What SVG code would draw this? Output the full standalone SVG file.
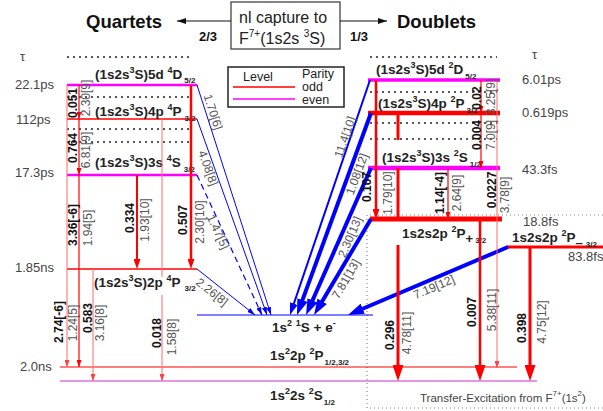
<svg xmlns="http://www.w3.org/2000/svg" width="603" height="411" viewBox="0 0 603 411">
<style>
text{font-family:"Liberation Sans",Arial,sans-serif}
.hd{font-size:18.5px;font-weight:bold;fill:#111}
.fr{font-size:13px;font-weight:bold;fill:#111}
.bx{font-size:16px;fill:#222}
.lv{font-size:13.5px;font-weight:bold;fill:#222}
.tm{font-size:13px;fill:#444}
.te{font-size:11.5px;fill:#444}
.lg{font-size:12.5px;fill:#222}
.bv{font-size:12px;font-weight:bold;fill:#111}
.gv{font-size:12px;fill:#555}
.dot{stroke:#222;stroke-width:1.6;stroke-dasharray:2,4;fill:none}
.gdot{stroke:#888;stroke-width:1.2;stroke-dasharray:1,3;fill:none}
.mg{stroke:#ff00ff;fill:none}
.rd{stroke:#ff0000;fill:none}
.lr{stroke:#ff6a6a;fill:none;stroke-width:1}
.bl{stroke:#0000ff;fill:none}
</style>
<defs>
<marker id="rS" markerUnits="userSpaceOnUse" markerWidth="7" markerHeight="5" refX="7" refY="2.5" orient="auto" viewBox="0 0 7 5"><path d="M0,0L7,2.5L0,5z" fill="#ff0000"/></marker>
<marker id="rSl" markerUnits="userSpaceOnUse" markerWidth="7" markerHeight="5" refX="7" refY="2.5" orient="auto" viewBox="0 0 7 5"><path d="M0,0L7,2.5L0,5z" fill="#ff4040"/></marker>
<marker id="rM" markerUnits="userSpaceOnUse" markerWidth="10" markerHeight="7" refX="2" refY="3.5" orient="auto" viewBox="0 0 10 7"><path d="M0,0L10,3.5L0,7z" fill="#ff0000"/></marker>
<marker id="rL" markerUnits="userSpaceOnUse" markerWidth="16" markerHeight="11" refX="2" refY="5.5" orient="auto" viewBox="0 0 16 11"><path d="M0,0L16,5.5L0,11z" fill="#ff0000"/></marker>
<marker id="bS" markerUnits="userSpaceOnUse" markerWidth="8" markerHeight="5" refX="8" refY="2.5" orient="auto" viewBox="0 0 8 5"><path d="M0,0L8,2.5L0,5z" fill="#0000ff"/></marker>
<marker id="bM" markerUnits="userSpaceOnUse" markerWidth="12" markerHeight="8" refX="2" refY="4" orient="auto" viewBox="0 0 12 8"><path d="M0,0L12,4L0,8z" fill="#0000ff"/></marker>
<marker id="bL" markerUnits="userSpaceOnUse" markerWidth="16" markerHeight="11" refX="2" refY="5.5" orient="auto" viewBox="0 0 16 11"><path d="M0,0L16,5.5L0,11z" fill="#0000ff"/></marker>
<marker id="kS" markerUnits="userSpaceOnUse" markerWidth="9" markerHeight="6" refX="9" refY="3" orient="auto" viewBox="0 0 9 6"><path d="M0,0L9,3L0,6z" fill="#111"/></marker>
</defs>
<rect width="603" height="411" fill="#fff"/>

<!-- header -->
<g id="header">
<text class="hd" x="86" y="28">Quartets</text>
<text class="hd" x="397" y="28">Doublets</text>
<rect x="231" y="2" width="109" height="47" fill="none" stroke="#444" stroke-width="1.3"/>
<text class="bx" x="239" y="23">nl capture to</text>
<text class="bx" x="239" y="44">F<tspan font-size="10" dy="-7">7+</tspan><tspan dy="7">(1s2s  </tspan><tspan font-size="10" dy="-7">3</tspan><tspan dy="7">S)</tspan></text>
<text class="fr" x="199" y="41">2/3</text>
<text class="fr" x="350" y="41">1/3</text>
</g>

<!-- legend -->
<g id="legend">
<rect x="228" y="67" width="116" height="40" fill="#fff" stroke="#222" stroke-width="1.5"/>
<text class="lg" x="243" y="81">Level</text>
<text class="lg" x="302" y="78">Parity</text>
<line x1="233" y1="87" x2="295" y2="87" stroke="#ff0000" stroke-width="1.3"/>
<text class="lg" x="302" y="91">odd</text>
<line x1="233" y1="99" x2="295" y2="99" stroke="#ff00ff" stroke-width="1.3"/>
<text class="lg" x="302" y="104">even</text>
</g>

<!-- tau / lifetimes -->
<g id="lifetimes">
<text class="tm" x="20" y="61">τ</text>
<text class="tm" x="15" y="89">22.1ps</text>
<text class="tm" x="16" y="124">112ps</text>
<text class="tm" x="15" y="177">17.3ps</text>
<text class="tm" x="15" y="272">1.85ns</text>
<text class="tm" x="20" y="371">2.0ns</text>
<text class="tm" x="532" y="59">τ</text>
<text class="tm" x="522" y="84">6.01ps</text>
<text class="tm" x="522" y="117">0.619ps</text>
<text class="tm" x="522" y="174">43.3fs</text>
<text class="tm" x="523" y="226">18.8fs</text>
<text class="tm" x="568" y="261">83.8fs</text>
</g>

<!-- dotted guides -->
<g id="guides">
<line class="dot" x1="67" y1="57" x2="193" y2="57"/>
<line class="dot" x1="67" y1="97" x2="193" y2="97"/>
<line class="dot" x1="67" y1="129" x2="193" y2="129"/>
<line class="dot" x1="67" y1="142" x2="193" y2="142"/>
<line class="dot" x1="370" y1="57" x2="497" y2="57"/>
<line class="dot" x1="370" y1="92" x2="497" y2="92"/>
<line class="dot" x1="370" y1="123" x2="497" y2="123"/>
<line class="dot" x1="370" y1="139" x2="497" y2="139"/>
<path class="gdot" d="M370,215H603M367,215V408H603"/>
</g>

<!-- quartet levels -->
<g id="q5d">
<line class="mg" x1="67" y1="85" x2="197" y2="85" stroke-width="2.5"/>
<text class="lv" x="95" y="79">(1s2s<tspan font-size="9" dy="-6">3</tspan><tspan dy="6">S)5d </tspan><tspan font-size="9" dy="-6">4</tspan><tspan dy="6">D</tspan><tspan font-size="8" dx="2" dy="4">5/2</tspan></text>
</g>
<g id="q4p">
<line class="rd" x1="67" y1="119" x2="197" y2="119" stroke-width="1.5"/>
<text class="lv" x="95" y="116">(1s2s<tspan font-size="9" dy="-6">3</tspan><tspan dy="6">S)4p </tspan><tspan font-size="9" dy="-6">4</tspan><tspan dy="6">P</tspan><tspan font-size="8" dx="3" dy="5">3/2</tspan></text>
</g>
<g id="q3s">
<line class="mg" x1="67" y1="175" x2="197" y2="175" stroke-width="2.5"/>
<text class="lv" x="95" y="167">(1s2s<tspan font-size="9" dy="-6">3</tspan><tspan dy="6">S)3s </tspan><tspan font-size="9" dy="-6">4</tspan><tspan dy="6">S</tspan><tspan font-size="8" dx="3" dy="5">3/2</tspan></text>
</g>
<g id="q2p">
<line class="rd" x1="67" y1="269" x2="197" y2="269" stroke-width="1.5"/>
<text class="lv" x="94" y="287">(1s2s<tspan font-size="9" dy="-6">3</tspan><tspan dy="6">S)2p </tspan><tspan font-size="9" dy="-6">4</tspan><tspan dy="6">P</tspan><tspan font-size="8" dx="4" dy="4">3/2</tspan></text>
</g>

<!-- doublet levels -->
<g id="d5d">
<line class="mg" x1="368" y1="80" x2="500" y2="80" stroke-width="3.5"/>
<text class="lv" x="376" y="74">(1s2s<tspan font-size="9" dy="-6">3</tspan><tspan dy="6">S)5d </tspan><tspan font-size="9" dy="-6">2</tspan><tspan dy="6">D</tspan><tspan font-size="8" dx="2" dy="5">5/2</tspan></text>
</g>
<g id="d4p">
<line class="rd" x1="368" y1="113" x2="500" y2="113" stroke-width="4.5"/>
<text class="lv" x="378" y="108">(1s2s<tspan font-size="9" dy="-6">3</tspan><tspan dy="6">S)4p </tspan><tspan font-size="9" dy="-6">2</tspan><tspan dy="6">P</tspan><tspan font-size="8" dx="2" dy="5">3/2</tspan></text>
</g>
<g id="d3s">
<line class="mg" x1="368" y1="168" x2="500" y2="168" stroke-width="4.5"/>
<text class="lv" x="382" y="162">(1s2s<tspan font-size="9" dy="-6">3</tspan><tspan dy="6">S)3s </tspan><tspan font-size="9" dy="-6">2</tspan><tspan dy="6">S</tspan><tspan font-size="8" dx="2" dy="5">1/2</tspan></text>
</g>
<g id="d2pplus">
<line class="rd" x1="370" y1="219" x2="502" y2="219" stroke-width="5"/>
<text class="lv" x="402" y="238">1s2s2p <tspan font-size="9" dy="-6">2</tspan><tspan dy="6">P</tspan><tspan font-size="13" dy="5">+</tspan><tspan font-size="8" dx="2" dy="0">3/2</tspan></text>
</g>
<g id="d2pminus">
<line class="rd" x1="507" y1="247" x2="603" y2="247" stroke-width="3"/>
<text class="lv" x="512" y="242">1s2s2p <tspan font-size="9" dy="-6">2</tspan><tspan dy="6">P</tspan><tspan font-size="13" dy="5">–</tspan><tspan font-size="8" dx="3" dy="0">3/2</tspan></text>
</g>

<!-- final states -->
<g id="continuum">
<line class="bl" x1="197" y1="315" x2="373" y2="315" stroke-width="1.2"/>
<text class="lv" x="272" y="332">1s<tspan font-size="9" dy="-6">2</tspan><tspan dy="6"> </tspan><tspan font-size="9" dy="-6">1</tspan><tspan dy="6">S + e</tspan><tspan font-size="9" dy="-6">-</tspan></text>
</g>
<g id="g2p">
<line class="rd" x1="60" y1="367" x2="517" y2="367" stroke-width="1.2"/>
<text class="lv" x="270" y="360">1s<tspan font-size="9" dy="-6">2</tspan><tspan dy="6">2p </tspan><tspan font-size="9" dy="-6">2</tspan><tspan dy="6">P</tspan><tspan font-size="8" dx="1" dy="5">1/2,3/2</tspan></text>
</g>
<g id="g2s">
<line x1="60" y1="381" x2="537" y2="381" stroke="#e070e0" stroke-width="1.5"/>
<text class="lv" x="270" y="400">1s<tspan font-size="9" dy="-6">2</tspan><tspan dy="6">2s </tspan><tspan font-size="9" dy="-6">2</tspan><tspan dy="6">S</tspan><tspan font-size="8" dx="1" dy="5">1/2</tspan></text>
</g>
<g id="te">
<text class="te" x="420" y="402">Transfer-Excitation from F<tspan font-size="8" dy="-6">7+</tspan><tspan dy="6">(1s</tspan><tspan font-size="8" dy="-6">2</tspan><tspan dy="6">)</tspan></text>
</g>

<!-- connectors -->
<g id="connectors">
<line x1="231" y1="21" x2="177" y2="21" stroke="#111" stroke-width="1.2" marker-end="url(#kS)"/>
<line x1="340" y1="21" x2="387" y2="21" stroke="#111" stroke-width="1.2" marker-end="url(#kS)"/>

<!-- quartet radiative -->
<line class="lr" x1="67" y1="85" x2="67" y2="367" marker-end="url(#rSl)"/>
<line class="rd" x1="79" y1="85" x2="79" y2="119" stroke-width="1.2" marker-end="url(#rS)"/>
<line class="rd" x1="79" y1="119" x2="79" y2="175" stroke-width="1.2" marker-end="url(#rS)"/>
<line class="rd" x1="79" y1="175" x2="79" y2="367" stroke-width="1.2" marker-end="url(#rS)"/>
<line class="lr" x1="93" y1="269" x2="93" y2="381" marker-end="url(#rSl)"/>
<line class="rd" x1="137" y1="175" x2="137" y2="261" stroke-width="2" marker-end="url(#rM)"/>
<line class="lr" x1="162" y1="119" x2="162" y2="277"/>
<line class="lr" x1="162" y1="295" x2="162" y2="381" marker-end="url(#rSl)"/>
<line class="rd" x1="191" y1="85" x2="191" y2="261" stroke-width="2.5" marker-end="url(#rM)"/>

<!-- quartet autoionization -->
<line class="bl" x1="197" y1="85" x2="271" y2="315" stroke-width="1" marker-end="url(#bS)"/>
<line class="bl" x1="197" y1="119" x2="267" y2="315" stroke-width="1" marker-end="url(#bS)"/>
<line class="bl" x1="197" y1="175" x2="262" y2="315" stroke-width="1.2" stroke-dasharray="6,4" marker-end="url(#bS)"/>
<line class="bl" x1="197" y1="269" x2="255" y2="315" stroke-width="1" marker-end="url(#bS)"/>

<!-- doublet autoionization -->
<line class="bl" x1="370" y1="80" x2="293.2" y2="305.5" stroke-width="2" marker-end="url(#bM)"/>
<line class="bl" x1="371" y1="113" x2="301.8" y2="301.9" stroke-width="4" marker-end="url(#bL)"/>
<line class="bl" x1="371" y1="168" x2="311.7" y2="302.2" stroke-width="4" marker-end="url(#bL)"/>
<line class="bl" x1="371" y1="219" x2="321.2" y2="303" stroke-width="4" marker-end="url(#bL)"/>
<line class="bl" x1="508" y1="247" x2="360.9" y2="309.5" stroke-width="4" marker-end="url(#bL)"/>

<!-- doublet radiative -->
<line class="rd" x1="376" y1="80" x2="376" y2="211" stroke-width="2.5" marker-end="url(#rM)"/>
<line class="rd" x1="398" y1="113" x2="398" y2="140" stroke-width="3"/>
<line class="rd" x1="398" y1="168" x2="398" y2="219" stroke-width="3"/>
<line class="rd" x1="398" y1="245" x2="398" y2="367" stroke-width="3" marker-end="url(#rL)"/>
<line class="rd" x1="448" y1="168" x2="448" y2="219" stroke-width="1.2" marker-end="url(#rS)"/>
<line class="rd" x1="481" y1="80" x2="481" y2="113" stroke-width="1.2" marker-end="url(#rS)"/>
<line class="rd" x1="481" y1="113" x2="481" y2="168" stroke-width="1.2" marker-end="url(#rS)"/>
<line class="rd" x1="480" y1="219" x2="480" y2="367" stroke-width="2.5" marker-end="url(#rL)"/>
<line class="lr" x1="497" y1="80" x2="497" y2="368" stroke-width="1.2" marker-end="url(#rSl)"/>
<line class="rd" x1="530" y1="247" x2="530" y2="367" stroke-width="3" marker-end="url(#rL)"/>
</g>

<!-- rates / branching labels -->
<g id="labels">
<text class="bv" text-anchor="middle" transform="translate(73,103) rotate(-90)" y="4">0.051</text>
<text class="gv" text-anchor="middle" transform="translate(86,98) rotate(-90)" y="4">2.30[9]</text>
<text class="bv" text-anchor="middle" transform="translate(73,148) rotate(-90)" y="4">0.764</text>
<text class="gv" text-anchor="middle" transform="translate(86,150) rotate(-90)" y="4">6.81[9]</text>
<text class="bv" text-anchor="middle" transform="translate(73,225) rotate(-90)" y="4">3.36[-6]</text>
<text class="gv" text-anchor="middle" transform="translate(88,228) rotate(-90)" y="4">1.94[5]</text>
<text class="bv" text-anchor="middle" transform="translate(130,218) rotate(-90)" y="4">0.334</text>
<text class="gv" text-anchor="middle" transform="translate(145,220) rotate(-90)" y="4">1.93[10]</text>
<text class="bv" text-anchor="middle" transform="translate(183,220) rotate(-90)" y="4">0.507</text>
<text class="gv" text-anchor="middle" transform="translate(200,222) rotate(-90)" y="4">2.30[10]</text>
<text class="bv" text-anchor="middle" transform="translate(59,322) rotate(-90)" y="4">2.74[-6]</text>
<text class="gv" text-anchor="middle" transform="translate(73,323) rotate(-90)" y="4">1.24[5]</text>
<text class="bv" text-anchor="middle" transform="translate(88,318) rotate(-90)" y="4">0.583</text>
<text class="gv" text-anchor="middle" transform="translate(100,323) rotate(-90)" y="4">3.16[8]</text>
<text class="bv" text-anchor="middle" transform="translate(157,333) rotate(-90)" y="4">0.018</text>
<text class="gv" text-anchor="middle" transform="translate(172,337) rotate(-90)" y="4">1.58[8]</text>

<text class="gv" text-anchor="middle" transform="translate(213,112) rotate(72)" y="4">1.70[6]</text>
<text class="gv" text-anchor="middle" transform="translate(208,168) rotate(70)" y="4">4.08[8]</text>
<text class="gv" text-anchor="middle" transform="translate(218,232) rotate(65)" y="4">1.47[5]</text>
<text class="gv" text-anchor="middle" transform="translate(212,292) rotate(38)" y="4">2.26[8]</text>

<text class="gv" text-anchor="middle" transform="translate(345,137) rotate(-71)" y="4">11.4[10]</text>
<text class="gv" text-anchor="middle" transform="translate(357,174) rotate(-70)" y="4">1.08[12]</text>
<text class="gv" text-anchor="middle" transform="translate(350,237) rotate(-67)" y="4">2.30[13]</text>
<text class="gv" text-anchor="middle" transform="translate(346,279) rotate(-60)" y="4">7.81[13]</text>
<text class="gv" text-anchor="middle" transform="translate(434,287) rotate(-23)" y="4">7.19[12]</text>

<text class="bv" text-anchor="middle" transform="translate(477,98) rotate(-90)" y="4">0.02</text>
<text class="gv" text-anchor="middle" transform="translate(491,97) rotate(-90)" y="4">3.25[9]</text>
<text class="bv" text-anchor="middle" transform="translate(477,135) rotate(-90)" y="4">0.004</text>
<text class="gv" text-anchor="middle" transform="translate(491,135) rotate(-90)" y="4">7.0[9]</text>
<text class="bv" text-anchor="middle" transform="translate(367,187) rotate(-90)" y="4">0.107</text>
<text class="gv" text-anchor="middle" transform="translate(388,193) rotate(-90)" y="4">1.79[10]</text>
<text class="bv" text-anchor="middle" transform="translate(440,193) rotate(-90)" y="4">1.14[-4]</text>
<text class="gv" text-anchor="middle" transform="translate(457,193) rotate(-90)" y="4">2.64[9]</text>
<text class="bv" text-anchor="middle" transform="translate(492,190) rotate(-90)" y="4">0.0227</text>
<text class="gv" text-anchor="middle" transform="translate(505,195) rotate(-90)" y="4">3.78[9]</text>
<text class="bv" text-anchor="middle" transform="translate(390,335) rotate(-90)" y="4">0.296</text>
<text class="gv" text-anchor="middle" transform="translate(407,333) rotate(-90)" y="4">4.78[11]</text>
<text class="bv" text-anchor="middle" transform="translate(472,312) rotate(-90)" y="4">0.007</text>
<text class="gv" text-anchor="middle" transform="translate(492,310) rotate(-90)" y="4">5.38[11]</text>
<text class="bv" text-anchor="middle" transform="translate(522,328) rotate(-90)" y="4">0.398</text>
<text class="gv" text-anchor="middle" transform="translate(542,322) rotate(-90)" y="4">4.75[12]</text>
</g>
</svg>
